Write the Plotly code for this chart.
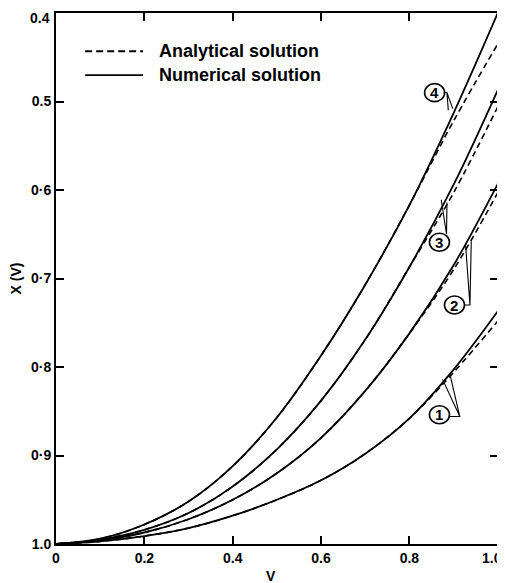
import plotly.graph_objects as go

# ---- data ----
V = [0.0, 0.1, 0.2, 0.3, 0.4, 0.5, 0.6, 0.7, 0.8, 0.9, 1.0]

num_1 = [1.0, 0.997, 0.991, 0.982, 0.968, 0.950, 0.928, 0.898, 0.858, 0.803, 0.737]
num_2 = [1.0, 0.996, 0.987, 0.972, 0.950, 0.920, 0.880, 0.827, 0.762, 0.685, 0.593]
num_3 = [1.0, 0.995, 0.984, 0.965, 0.935, 0.893, 0.838, 0.769, 0.687, 0.594, 0.487]
num_4 = [1.0, 0.994, 0.978, 0.952, 0.912, 0.857, 0.787, 0.707, 0.617, 0.513, 0.400]

ana_1 = [1.0, 0.997, 0.991, 0.982, 0.968, 0.950, 0.928, 0.898, 0.858, 0.806, 0.748]
ana_2 = [1.0, 0.996, 0.987, 0.972, 0.950, 0.920, 0.880, 0.827, 0.762, 0.690, 0.603]
ana_3 = [1.0, 0.995, 0.984, 0.965, 0.935, 0.893, 0.838, 0.769, 0.687, 0.603, 0.506]
ana_4 = [1.0, 0.994, 0.978, 0.952, 0.912, 0.857, 0.787, 0.707, 0.617, 0.522, 0.435]

x_ticks = [0, 0.2, 0.4, 0.6, 0.8, 1.0]
x_ticktext = ["0", "0.2", "0.4", "0.6", "0.8", "1.0"]
y_ticks = [0.4, 0.5, 0.6, 0.7, 0.8, 0.9, 1.0]
y_ticktext = ["0.4", "0.5", "0·6", "0·7", "0·8", "0·9", "1.0"]

curve_labels = ["1", "2", "3", "4"]
label_x = [0.868, 0.902, 0.868, 0.857]
label_y = [0.854, 0.730, 0.659, 0.490]

FONT = "Liberation Sans"

fig = go.Figure()

for ana in [ana_1, ana_2, ana_3, ana_4]:
    fig.add_trace(go.Scatter(x=V, y=ana, mode="lines", showlegend=False, cliponaxis=False,
                             line=dict(color="black", width=1.6, dash="6px,4px", shape="spline")))
for num in [num_1, num_2, num_3, num_4]:
    fig.add_trace(go.Scatter(x=V, y=num, mode="lines", showlegend=False, cliponaxis=False,
                             line=dict(color="black", width=1.8, shape="spline")))

shapes = []
annotations = []

# circled curve labels
for t, lx, ly in zip(curve_labels, label_x, label_y):
    shapes.append(dict(type="circle", xref="x", yref="y", xsizemode="pixel", ysizemode="pixel",
                       xanchor=lx, yanchor=ly, x0=-10, x1=10, y0=-9, y1=9,
                       line=dict(color="black", width=1.6), fillcolor="white"))
    annotations.append(dict(x=lx, y=ly, xref="x", yref="y", text=t, showarrow=False,
                            font=dict(family=FONT, size=15, color="black", weight="bold")))

# leader lines (narrow V shapes pointing to the numerical / analytical pair)
leaders = [
    "M 0.890,0.856 L 0.914,0.856 L 0.875,0.814 M 0.914,0.856 L 0.892,0.809",
    "M 0.924,0.730 L 0.937,0.730 L 0.927,0.661 M 0.937,0.730 L 0.940,0.658",
    "M 0.884,0.650 L 0.872,0.611 M 0.884,0.650 L 0.885,0.614",
    "M 0.878,0.490 L 0.885,0.490 L 0.888,0.510 M 0.885,0.490 L 0.898,0.508",
]
for p in leaders:
    shapes.append(dict(type="path", xref="x", yref="y", path=p,
                       line=dict(color="black", width=1.1)))

# legend drawn in the upper-left corner
shapes.append(dict(type="line", xref="paper", yref="paper", x0=0.066, x1=0.197, y0=0.928, y1=0.928,
                   line=dict(color="black", width=1.8, dash="7px,4px")))
shapes.append(dict(type="line", xref="paper", yref="paper", x0=0.066, x1=0.197, y0=0.883, y1=0.883,
                   line=dict(color="black", width=1.8)))
annotations.append(dict(x=0.229, y=0.928, xref="paper", yref="paper", text="Analytical solution",
                        showarrow=False, xanchor="left", yanchor="middle",
                        font=dict(family=FONT, size=18, color="black", weight="bold")))
annotations.append(dict(x=0.229, y=0.883, xref="paper", yref="paper", text="Numerical solution",
                        showarrow=False, xanchor="left", yanchor="middle",
                        font=dict(family=FONT, size=18, color="black", weight="bold")))

tick_font = dict(family=FONT, size=14, color="black", weight="bold")

# last x tick label sits flush with the right edge in the reference (drawn as text, left-shifted)
annotations.append(dict(x=x_ticks[-1], y=0, xref="x", yref="paper", xshift=6, yshift=-4,
                        text=x_ticktext[-1], showarrow=False, xanchor="right", yanchor="top",
                        font=tick_font))
x_ticktext_axis = x_ticktext[:-1] + [""]

# first y tick label sits at the very top edge: drawn as text kept inside the page
annotations.append(dict(x=0, y=y_ticks[0], xref="paper", yref="y", xshift=-5, yshift=4,
                        text=y_ticktext[0], showarrow=False, xanchor="right", yanchor="top",
                        borderpad=0, font=tick_font))
y_ticktext_axis = [""] + y_ticktext[1:]

# axis titles
annotations.append(dict(x=0.486, y=0, xref="paper", yref="paper", yshift=-22, text="V",
                        showarrow=False, xanchor="center", yanchor="top",
                        font=dict(family=FONT, size=14, color="black", weight="bold")))
annotations.append(dict(x=0, y=0.5, xref="paper", yref="paper", xshift=-41, text="X (V)",
                        textangle=-90, showarrow=False, xanchor="center", yanchor="middle",
                        font=dict(family=FONT, size=14, color="black", weight="bold")))

axis_common = dict(showgrid=False, zeroline=False, showline=True, linecolor="black", linewidth=2,
                   ticks="inside", ticklen=8, tickwidth=1.5, tickcolor="black", mirror="ticks",
                   automargin=False, ticklabeloverflow="allow", tickfont=tick_font)

# the page body adds an 8px offset, so margins are reduced by 8px on the top/left
fig.update_layout(
    width=505, height=583,
    margin=dict(l=48, r=15, t=5, b=47),
    paper_bgcolor="white", plot_bgcolor="white",
    shapes=shapes, annotations=annotations,
    xaxis=dict(range=[0, 1.0005], tickvals=x_ticks, ticktext=x_ticktext_axis, **axis_common),
    yaxis=dict(range=[1.0, 0.4], tickvals=y_ticks, ticktext=y_ticktext_axis, **axis_common),
)

fig.write_html("out.html")
